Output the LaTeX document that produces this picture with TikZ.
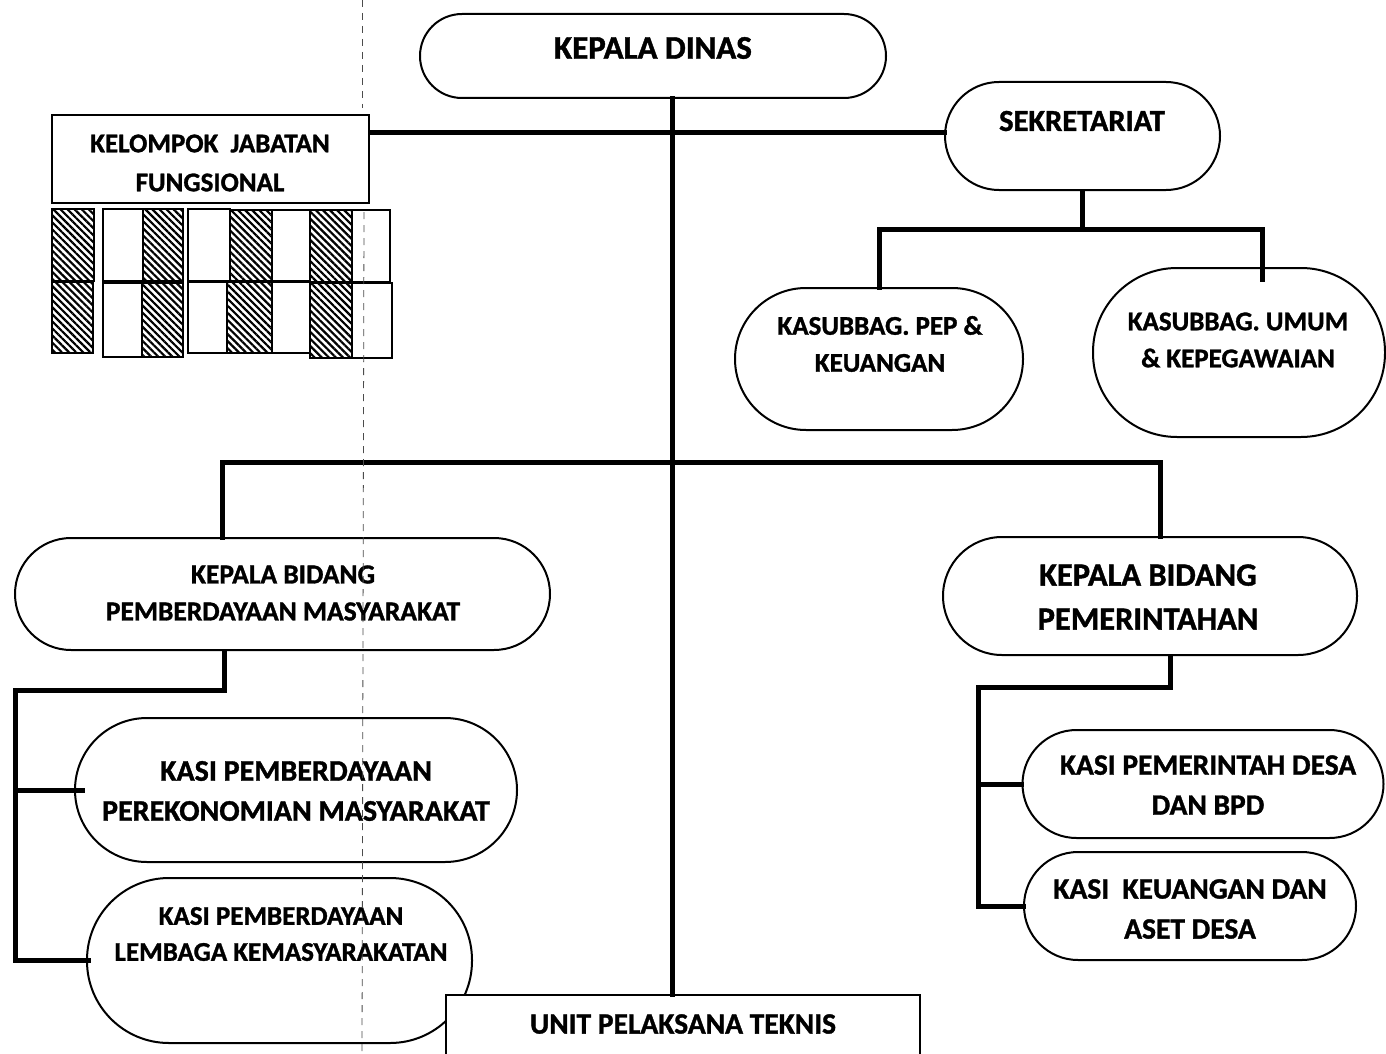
\documentclass[tikz,border=0pt]{standalone}
\usepackage{fontspec}
\setmainfont{Carlito}[BoldFeatures={FakeBold=1.2}]
\usetikzlibrary{patterns.meta,calc}
\newcommand\myfs[2]{\fontsize{#1}{#2}\selectfont\bfseries}
\tikzset{
  box/.style={draw, line width=2pt, fill=white, inner sep=0pt},
  txt/.style={inner sep=0pt, align=center},
  conn/.style={line width=5pt, line cap=rect},
  hatch/.style={draw, line width=1.5pt, pattern={Lines[angle=-45,distance=5pt,line width=2.2pt]}},
  plain/.style={draw, line width=1.5pt, fill=white},
  guide/.style={line width=0.8pt, black!70, dash pattern=on 7pt off 6pt}
}
\begin{document}
\begin{tikzpicture}[x=1pt,y=-1pt]
\clip (0,0) rectangle (1386,1054);
\fill[white] (0,0) rectangle (1386,1054);

% ---- boxes ----
\node[box, minimum width=466pt, minimum height=84pt, rounded corners=42pt] (kd) at (653,56) {};
\node[txt, font=\myfs{33}{38}] (kdt) at (653,48) {KEPALA DINAS};

\node[box, rounded corners=0pt, minimum width=317pt, minimum height=88pt] (kjf) at (210.5,159) {};
\node[txt, font=\myfs{27}{39}] (kjft) at (210,163) {KELOMPOK\ \ JABATAN\\FUNGSIONAL};

\node[box, minimum width=275pt, minimum height=108pt, rounded corners=54pt] (sek) at (1082.5,136) {};
\node[txt, font=\myfs{30.5}{34}] (sekt) at (1082,121) {SEKRETARIAT};

\node[box, minimum width=288pt, minimum height=142pt, rounded corners=71pt] (pep) at (879,359) {};
\node[txt, font=\myfs{27}{37}] (pept) at (880,344) {KASUBBAG. PEP \&\\KEUANGAN};

\node[box, minimum width=292pt, minimum height=169pt, rounded corners=84pt] (umum) at (1239,352.5) {};
\node[txt, font=\myfs{27}{37}] (umumt) at (1238,340) {KASUBBAG. UMUM\\\& KEPEGAWAIAN};

\node[box, minimum width=535pt, minimum height=112pt, rounded corners=56pt] (kbpm) at (282.5,594) {};
\node[txt, font=\myfs{27.5}{37}] (kbpmt) at (283,593) {KEPALA BIDANG\\PEMBERDAYAAN MASYARAKAT};

\node[box, minimum width=414pt, minimum height=118pt, rounded corners=59pt] (kbp) at (1150,596) {};
\node[txt, font=\myfs{32.5}{44}] (kbpt) at (1148,597) {KEPALA BIDANG\\PEMERINTAHAN};

\node[box, minimum width=442pt, minimum height=144pt, rounded corners=72pt] (kppm) at (296,790) {};
\node[txt, font=\myfs{30}{40}] (kppmt) at (296,791) {KASI PEMBERDAYAAN\\PEREKONOMIAN MASYARAKAT};

\node[box, minimum width=385pt, minimum height=165pt, rounded corners=82pt] (kplk) at (279.5,960.5) {};
\node[txt, font=\myfs{27}{36}] (kplkt) at (281,934) {KASI PEMBERDAYAAN\\LEMBAGA KEMASYARAKATAN};

\node[box, minimum width=361pt, minimum height=108pt, rounded corners=54pt] (kpdb) at (1203,784) {};
\node[txt, font=\myfs{29.5}{40}] (kpdbt) at (1208,785) {KASI PEMERINTAH DESA\\DAN BPD};

\node[box, minimum width=332pt, minimum height=108pt, rounded corners=54pt] (kkda) at (1190,906) {};
\node[txt, font=\myfs{29.5}{40}] (kkdat) at (1190,909) {KASI\ \ KEUANGAN DAN\\ASET DESA};

\node[box, rounded corners=0pt, minimum width=474pt, minimum height=120pt] (upt) at (683,1055) {};
\node[txt, font=\myfs{29.5}{34}] (uptt) at (683,1024) {UNIT PELAKSANA TEKNIS};

% ---- hatched cells ----
\foreach \xa/\xb/\ya/\yb/\st in {
  52/94/209/281/hatch, 103/143/209/281/plain, 143/183/209/281/hatch,
  188/230/209/281/plain, 230/272/210/281/hatch, 272/310/210/281/plain,
  310/352/210/282/hatch, 352/390/210/282/plain,
  52/93/282/353/hatch, 103/142/283/357/plain, 142/183/283/357/hatch,
  188/227/282/353/plain, 227/272/282/353/hatch, 272/310/282/353/plain,
  310/352/283/358/hatch, 352/392/283/358/plain}
  \path[\st] (\xa,\ya) rectangle (\xb,\yb);

% ---- connectors ----
\coordinate (mtop) at (672,98);
\draw[conn] (kd.south -| mtop) -- (upt.north -| mtop);

\draw[conn] (kjf.east |- 0,133) -- (sek.west |- 0,133);

\coordinate (sj) at (1082,229);
\coordinate (sr) at (1262,229);
\draw[conn] (sek.south -| sj) -- (sj);
\draw[conn] (pep.north) -- (pep.north |- sj) -- (sr) -- ($(sr |- umum.north)+(0,12)$);

\coordinate (bl) at (222,462);
\coordinate (br) at (1160,462);
\draw[conn] (bl |- kbpm.north) -- (bl) -- (br) -- (br |- kbp.north);

\coordinate (lt) at (224,690);
\coordinate (lc) at (15,690);
\draw[conn] (lt |- kbpm.south) -- (lt) -- (lc) -- (lc |- kplk.west) -- ($(kplk.west)+(2,0)$);
\draw[conn] (lc |- kppm.west) -- ($(kppm.west)+(8,0)$);

\coordinate (rt) at (1170,687);
\coordinate (rc) at (978,687);
\draw[conn] (rt |- kbp.south) -- (rt) -- (rc) -- (rc |- kkda.west) -- (kkda.west);
\draw[conn] (rc |- kpdb.west) -- (kpdb.west);

% ---- dashed guide ----
\coordinate (g0) at (362,0);
\coordinate (g1) at (362,108);
\coordinate (g2) at (364,212);
\coordinate (g3) at (362,1054);
\draw[guide] (g0) -- (g1);
\draw[guide] (g2) -- (g3);
\end{tikzpicture}
\end{document}
